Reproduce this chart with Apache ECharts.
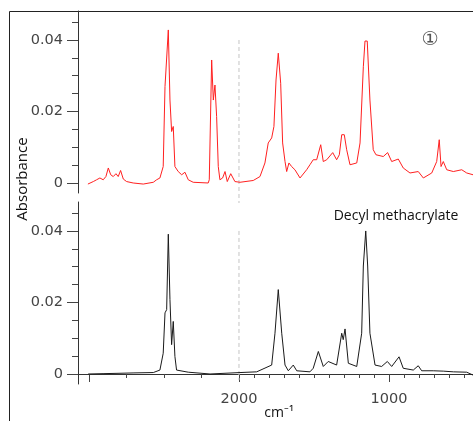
<!DOCTYPE html>
<html>
<head>
<meta charset="utf-8">
<script src="https://cdn.jsdelivr.net/npm/echarts@6/dist/echarts.min.js"></script>
<style>
html,body{margin:0;padding:0;background:#fff;}
#chart{width:473px;height:421px;}
</style>
</head>
<body>
<div id="chart"></div>
<script>
// ---- data ----
const topWn = [3007,2971,2949,2927,2905,2887,2871,2855,2838,2820,2805,2789,2771,2749,2705,2638,2571,2549,2527,2505,2493,2482,2471,2460,2449,2438,2427,2405,2382,2360,2338,2305,2205,2198,2182,2171,2160,2149,2138,2127,2109,2093,2078,2055,2027,1993,1905,1860,1827,1805,1782,1767,1753,1738,1722,1709,1693,1682,1667,1649,1627,1593,1549,1527,1505,1482,1455,1438,1415,1375,1349,1331,1315,1298,1282,1260,1215,1193,1171,1160,1145,1127,1105,1087,1038,1009,982,938,905,860,805,771,715,682,665,653,638,615,571,515,482,440];
const topAbs = [-0.0003,0.0004,0.0009,0.0014,0.0009,0.0018,0.0042,0.0023,0.0018,0.0026,0.0018,0.0035,0.0011,0.0004,0.0000,-0.0003,0.0002,0.0009,0.0014,0.0046,0.0270,0.0265,0.0428,0.0232,0.0144,0.0158,0.0046,0.0032,0.0023,0.0030,0.0009,0.0002,0.0000,0.0009,0.0344,0.0232,0.0274,0.0186,0.0046,0.0009,0.0014,0.0032,0.0004,0.0026,0.0004,0.0002,0.0007,0.0018,0.0056,0.0112,0.0126,0.0158,0.0288,0.0363,0.0279,0.0112,0.0060,0.0032,0.0056,0.0046,0.0037,0.0014,0.0037,0.0051,0.0065,0.0065,0.0107,0.0060,0.0065,0.0085,0.0065,0.0079,0.0135,0.0135,0.0093,0.0051,0.0056,0.0112,0.0325,0.0397,0.0397,0.0232,0.0093,0.0079,0.0074,0.0085,0.0060,0.0067,0.0042,0.0028,0.0032,0.0014,0.0028,0.0060,0.0121,0.0046,0.0060,0.0037,0.0032,0.0037,0.0028,0.0023];

const botWn = [3005,2900,2793,2700,2571,2560,2527,2505,2493,2482,2471,2460,2449,2438,2427,2416,2338,2193,1993,1882,1782,1760,1738,1715,1693,1671,1638,1615,1527,1505,1471,1438,1405,1349,1315,1305,1293,1271,1215,1182,1171,1155,1142,1127,1093,1049,1011,982,933,905,838,805,782,705,638,571,482,440];
const botAbs = [0.0000,0.0001,0.0002,0.0003,0.0004,0.0006,0.0011,0.0058,0.0171,0.0180,0.0391,0.0208,0.0082,0.0147,0.0049,0.0011,0.0005,0.0000,0.0004,0.0006,0.0025,0.0114,0.0236,0.0114,0.0025,0.0009,0.0025,0.0009,0.0006,0.0016,0.0063,0.0021,0.0035,0.0025,0.0114,0.0096,0.0126,0.0030,0.0021,0.0114,0.0302,0.0400,0.0302,0.0114,0.0025,0.0021,0.0035,0.0021,0.0048,0.0016,0.0011,0.0023,0.0009,0.0009,0.0008,0.0006,0.0005,-0.0003];

// dashed reference line at 2000 cm-1 (absorbance span in each panel)
const refLineWn = [2000, 2000];
const refTopAbs = [0.04, -0.0055];
const refBotAbs = [0.04, -0.0017];

const yMinorTicks = [0,0.005,0.01,0.015,0.02,0.025,0.03,0.035,0.04,0.045];
const yMajorTicks = [0,0.02,0.04];
const xMinorTicks = [2750,2500,2250,1900,1800,1700,1600,1500,1400,1300,1200,1100,900,800,700,600,500];
const xMajorTicks = [3000,2000,1000];
const xTickLabels = [2000,1000];

// ---- chart ----
const chart = echarts.init(document.getElementById('chart'), null, {renderer:'canvas'});
const pairs = (xs, ys) => xs.map((x, i) => [x, ys[i]]);
const X_MIN = 440, X_MAX = 3073, Y_MIN = -0.0028, Y_MAX = 0.0481;
const axisCol = '#333';
const labelFont = {fontFamily:'DejaVu Sans', fontSize:14.5, color:'#444'};

function xAxisDef(grid, extra){
  return Object.assign({gridIndex:grid, type:'value', min:X_MIN, max:X_MAX, inverse:true, position:'bottom',
    splitLine:{show:false}}, extra);
}
function yAxisDef(grid, extra){
  return Object.assign({gridIndex:grid, type:'value', min:Y_MIN, max:Y_MAX, position:'left',
    splitLine:{show:false}}, extra);
}
const yMain = g => yAxisDef(g, {
  axisLine:{show:true, lineStyle:{color:axisCol, width:1}},
  axisTick:{show:true, customValues:yMinorTicks, length:6, lineStyle:{color:'#444'}},
  axisLabel:{show:true, customValues:yMajorTicks, margin:15, ...labelFont,
    formatter:v => v === 0 ? '0' : v.toFixed(2)}
});
const yMajor = g => yAxisDef(g, {
  axisLine:{show:false},
  axisTick:{show:true, customValues:yMajorTicks, length:11, lineStyle:{color:'#444'}},
  axisLabel:{show:false}
});
const dashStyle = {type:[4,3], color:'#c4c4c4', width:1};

const option = {
  animation:false,
  backgroundColor:'#fff',
  grid:[
    {left:78, top:11, width:395, height:182},
    {left:78, top:202, width:395, height:182},
    {left:78, top:11, width:395, height:192}
  ],
  xAxis:[
    xAxisDef(0, {show:false}),
    xAxisDef(1, {
      axisLine:{show:true, lineStyle:{color:axisCol, width:1}},
      axisTick:{show:true, customValues:xMinorTicks, length:4, lineStyle:{color:'#444'}},
      axisLabel:{show:false}
    }),
    xAxisDef(1, {
      axisLine:{show:false},
      axisTick:{show:true, customValues:xMajorTicks, length:8, lineStyle:{color:'#444'}},
      axisLabel:{show:true, customValues:xTickLabels, margin:8, ...labelFont, formatter:v => String(v)}
    }),
    xAxisDef(2, {show:false})
  ],
  yAxis:[ yMain(0), yMajor(0), yMain(1), yMajor(1),
    {gridIndex:2, type:'value', min:-0.0055, max:Y_MAX, show:false, splitLine:{show:false}} ],
  series:[
    {
      type:'line', xAxisIndex:3, yAxisIndex:4, data:pairs(refLineWn, refTopAbs),
      showSymbol:false, symbol:'none', lineStyle:dashStyle, z:1, clip:false
    },
    {
      type:'line', xAxisIndex:1, yAxisIndex:2, data:pairs(refLineWn, refBotAbs),
      showSymbol:false, symbol:'none', lineStyle:dashStyle, z:1
    },
    {
      type:'line', xAxisIndex:0, yAxisIndex:0, data:pairs(topWn, topAbs),
      showSymbol:false, symbol:'none', lineStyle:{color:'#ff2020', width:1}, z:3
    },
    {
      type:'line', xAxisIndex:1, yAxisIndex:2, data:pairs(botWn, botAbs),
      showSymbol:false, symbol:'none', lineStyle:{color:'#1a1a1a', width:1}, z:3
    }
  ],
  graphic:[
    {type:'rect', shape:{x:9.5, y:11.5, width:700, height:700}, style:{stroke:'#222', fill:null, lineWidth:1}, silent:true, z:-1},
    {type:'text', x:23, y:179, rotation:Math.PI/2,
      style:{text:'Absorbance', fontFamily:'Open Sans', fontSize:15, fill:'#111', align:'center', verticalAlign:'middle'}},
    {type:'text', x:279, y:413,
      style:{text:'cm⁻¹', fontFamily:'Open Sans', fontSize:14, fill:'#111', align:'center', verticalAlign:'middle'}},
    {type:'text', x:396, y:216,
      style:{text:'Decyl methacrylate', fontFamily:'Open Sans', fontSize:14, fill:'#111', align:'center', verticalAlign:'middle'}},
    {type:'text', x:430, y:40,
      style:{text:'①', fontFamily:'DejaVu Sans', fontSize:19, fill:'#555', align:'center', verticalAlign:'middle'}}
  ]
};
chart.setOption(option);
</script>
</body>
</html>
